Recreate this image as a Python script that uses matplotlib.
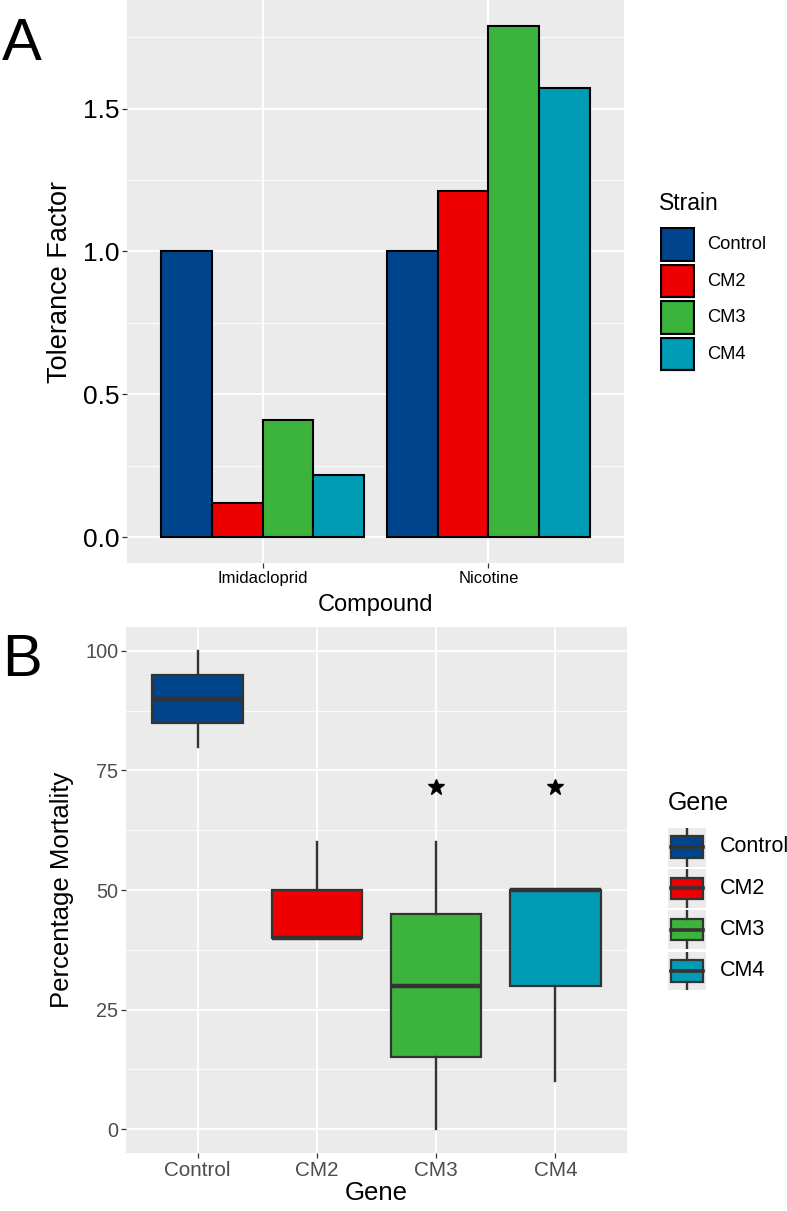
import numpy as np
import matplotlib
matplotlib.use("Agg")
import matplotlib.pyplot as plt
from matplotlib.patches import Rectangle

plt.rcParams['font.family'] = ['Liberation Sans', 'DejaVu Sans']

# Panel A data
compounds = ["Imidacloprid", "Nicotine"]
strains = ["Control", "CM2", "CM3", "CM4"]
imidacloprid_tf = [1.0, 0.12, 0.41, 0.22]
nicotine_tf = [1.0, 1.21, 1.79, 1.57]

# Panel B data (box summary per gene)
genes = ["Control", "CM2", "CM3", "CM4"]
med = [90, 40, 30, 50]
q1 = [85, 40, 15, 30]
q3 = [95, 50, 45, 50]
whislo = [80, 40, 0, 10]
whishi = [100, 60, 60, 50]
star_genes = ["CM3", "CM4"]
star_y = 71.5

colors = ["#00458C", "#EE0000", "#3CB43C", "#009CB5"]

W, H = 787, 1211
BG = "#EBEBEB"


def px_box(x0, y0, x1, y1):
    # pixel box (top-left origin) -> figure fraction rect
    return [x0 / W, 1 - y1 / H, (x1 - x0) / W, (y1 - y0) / H]


def style_axes(ax, minor_y, tick_color, tick_size):
    ax.set_facecolor(BG)
    for s in ax.spines.values():
        s.set_visible(False)
    ax.set_yticks(minor_y, minor=True)
    ax.grid(True, which='major', color='white', lw=1.3)
    ax.grid(True, which='minor', axis='y', color='white', lw=0.6)
    ax.set_axisbelow(True)
    ax.tick_params(which='major', length=3.6, width=0.9, color='#333333',
                   labelcolor=tick_color, labelsize=tick_size, pad=2)
    ax.tick_params(which='minor', length=0)


fig = plt.figure(figsize=(W / 100, H / 100), dpi=100)

# ---------------- Panel A ----------------
axA = fig.add_axes(px_box(127, 0, 624, 563))
style_axes(axA, [0.25, 0.75, 1.25, 1.75], 'black', 19)
width = 0.9 / len(strains)
vals = np.array([imidacloprid_tf, nicotine_tf])
xpos = np.arange(1, len(compounds) + 1)
for j, st in enumerate(strains):
    off = (j - (len(strains) - 1) / 2) * width
    axA.bar(xpos + off, vals[:, j], width=width, color=colors[j],
            edgecolor='black', linewidth=1.5, zorder=3)
axA.set_xlim(0.4, 2.6)
axA.set_ylim(-0.0895, 1.8795)
axA.set_yticks([0.0, 0.5, 1.0, 1.5])
axA.set_yticklabels(["0.0", "0.5", "1.0", "1.5"])
axA.set_xticks(xpos)
axA.set_xticklabels(compounds, fontsize=12)
axA.set_xlabel("Compound", fontsize=17, labelpad=6)
axA.set_ylabel("Tolerance Factor", fontsize=19.5, labelpad=7)

# legend A
fig.text(659 / W, 1 - 204 / H, "Strain", fontsize=16.5, va='center', ha='left')
for j, st in enumerate(strains):
    y0 = 227 + j * 36.5
    kax = fig.add_axes(px_box(660, y0, 695, y0 + 35))
    kax.set_axis_off()
    kax.add_patch(Rectangle((0.03, 0.03), 0.94, 0.94, facecolor=colors[j],
                            edgecolor='black', lw=1.6, transform=kax.transAxes))
    fig.text(707 / W, 1 - (y0 + 17.5) / H, st, fontsize=13.2, va='center', ha='left')

fig.text(2 / W, 1 - 45 / H, "A", fontsize=43, va='center', ha='left')

# ---------------- Panel B ----------------
axB = fig.add_axes(px_box(126, 627, 627, 1153))
style_axes(axB, [12.5, 37.5, 62.5, 87.5], '#4D4D4D', 14.3)
stats = []
for i, g in enumerate(genes):
    stats.append(dict(med=med[i], q1=q1[i], q3=q3[i], whislo=whislo[i],
                      whishi=whishi[i], fliers=[], label=g))
gpos = np.arange(1, len(genes) + 1)
bp = axB.bxp(stats, positions=gpos, widths=0.76, patch_artist=True,
             showcaps=False, showfliers=False,
             boxprops=dict(edgecolor='#333333', lw=1.6),
             whiskerprops=dict(color='#333333', lw=1.7),
             medianprops=dict(color='#333333', lw=3.2), zorder=3)
for patch, c in zip(bp['boxes'], colors):
    patch.set_facecolor(c)
for g in star_genes:
    axB.plot(genes.index(g) + 1, star_y, marker='*', color='black', ms=12,
             ls='none', zorder=4)
axB.set_xlim(0.4, 4.6)
axB.set_ylim(-5, 105)
axB.set_yticks([0, 25, 50, 75, 100])
axB.set_xticks(gpos)
axB.set_xticklabels(genes, fontsize=14.9)
axB.set_xlabel("Gene", fontsize=18.5, labelpad=1)
axB.set_ylabel("Percentage Mortality", fontsize=18.5, labelpad=8)

# legend B
fig.text(668 / W, 1 - 803 / H, "Gene", fontsize=18, va='center', ha='left')
for j, g in enumerate(genes):
    y0 = 828 + j * 41.2
    kax = fig.add_axes(px_box(668, y0, 706, y0 + 38.5))
    kax.set_xlim(0, 1)
    kax.set_ylim(0, 1)
    kax.set_facecolor(BG)
    kax.set_xticks([])
    kax.set_yticks([])
    for s in kax.spines.values():
        s.set_visible(False)
    kax.plot([0.5, 0.5], [0.02, 0.22], color='#333333', lw=1.7)
    kax.plot([0.5, 0.5], [0.78, 0.98], color='#333333', lw=1.7)
    kax.add_patch(Rectangle((0.07, 0.22), 0.86, 0.56, facecolor=colors[j],
                            edgecolor='#333333', lw=1.6))
    kax.plot([0.07, 0.93], [0.5, 0.5], color='#333333', lw=2.6)
    fig.text(720 / W, 1 - (y0 + 19) / H, g, fontsize=15.5, va='center', ha='left')

fig.text(2 / W, 1 - 660 / H, "B", fontsize=43, va='center', ha='left')

fig.savefig("out.png", dpi=100)
